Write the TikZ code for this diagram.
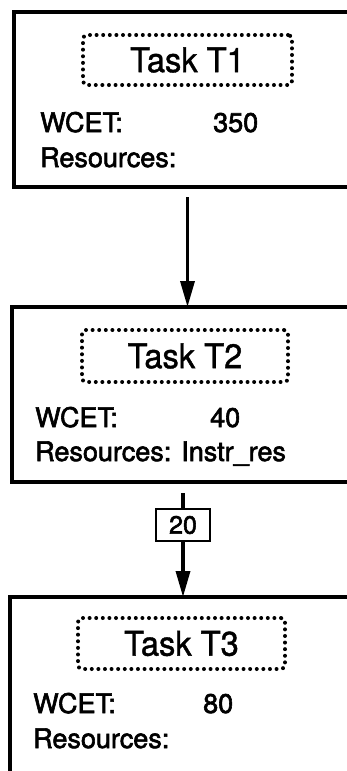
\documentclass[tikz,border=0pt]{standalone}
\usepackage{fontspec}
\setmainfont{TeX Gyre Heros}
\newfontfamily\titlefont{TeX Gyre Heros}[FakeBold=1.2]
\newfontfamily\fieldfont{TeX Gyre Heros}[FakeBold=2.2]
\usetikzlibrary{arrows.meta}
\begin{document}
\begin{tikzpicture}[x=1pt,y=-1pt,
  taskbox/.style={draw,line width=3.4pt,rectangle,anchor=north west,inner sep=0pt,outer sep=0pt},
  titlebox/.style={draw,line width=4pt,line cap=round,dash pattern=on 0pt off 6.6pt,
    rounded corners=4pt,inner sep=0pt,outer sep=0pt,font=\titlefont\fontsize{34}{40}\selectfont},
  field/.style={anchor=base west,inner sep=0pt,font=\fieldfont\fontsize{27}{31}\selectfont},
  flow/.style={line width=3.4pt,-{Triangle[length=26pt,width=14pt]}},
  weight/.style={draw,line width=2.8pt,inner sep=0pt,outer sep=0pt,minimum width=54pt,
    minimum height=32pt,fill=white,font=\fieldfont\fontsize{25}{29}\selectfont}]
\useasboundingbox (0,0) rectangle (347,771);
\clip (0,0) rectangle (347,771);

% task T1
\node[taskbox,minimum width=360pt,minimum height=175pt] (b1) at (14,12) {};
\node[titlebox,minimum width=209pt,minimum height=50pt] (t1) at (187.5,60) {\scalebox{0.96}[1]{Task T1}};
\node[field] (w1) at (40,132) {WCET:};
\node[field] (v1) at (213,132) {350};
\node[field] (r1) at (40,167) {Resources:};

% task T2
\node[taskbox,minimum width=360pt,minimum height=175pt] (b2) at (12,307) {};
\node[titlebox,minimum width=206pt,minimum height=52pt] (t2) at (185,356) {\scalebox{0.96}[1]{Task T2}};
\node[field] (w2) at (35,427) {WCET:};
\node[field] (v2) at (210,427) {40};
\node[field] (r2) at (35,461) {Resources: Instr\_res};

% task T3
\node[taskbox,minimum width=360pt,minimum height=200pt] (b3) at (10,597) {};
\node[titlebox,minimum width=207pt,minimum height=51pt] (t3) at (181.5,643.5) {\scalebox{0.96}[1]{Task T3}};
\node[field] (w3) at (33,713) {WCET:};
\node[field] (v3) at (203,713) {80};
\node[field] (r3) at (33,748) {Resources:};

% precedence edges
\draw[flow] ([yshift=-10pt]b1.south -| t1.center) -- (b2.north -| t1.center);
\node[weight] (w) at (183,525) {20};
\draw[line width=3.4pt] ([yshift=-11pt]b2.south -| w.center) -- (w.north);
\draw[flow] (w.south) -- (b3.north -| w.center);
\end{tikzpicture}
\end{document}
